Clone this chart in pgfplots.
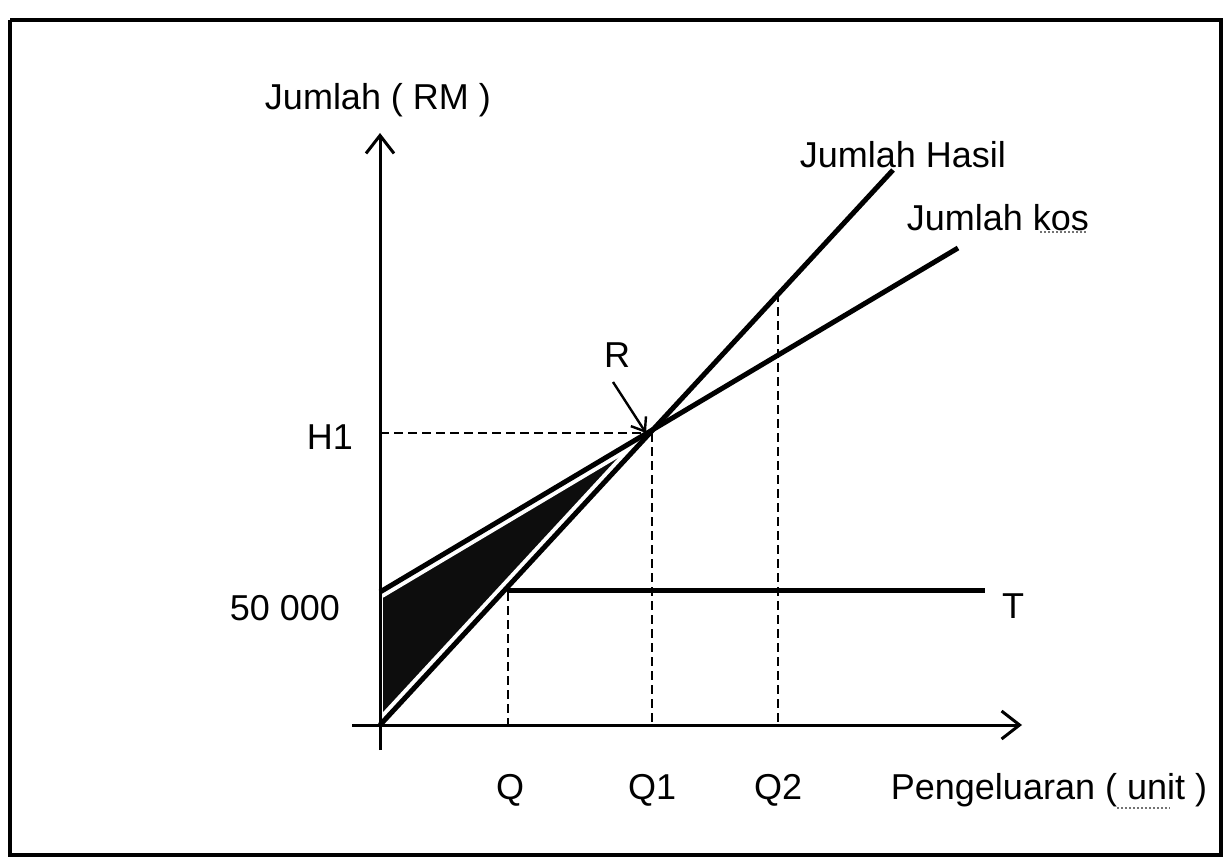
\documentclass[border=0pt]{standalone}
\usepackage{fontspec}
\setmainfont{Liberation Sans}
\usepackage{pgfplots}
\pgfplotsset{compat=1.18}
\usetikzlibrary{arrows.meta}

\begin{document}
\begin{tikzpicture}
\begin{axis}[
    hide axis,
    scale only axis,
    width=614.5pt, height=432pt,
    xmin=-380, xmax=849,
    ymin=-139, ymax=725,
    clip=false,
    every axis plot/.append style={no marks},
    nodes={font=\fontsize{18}{21}\selectfont},
    ]
    % keep the whole axis box in the picture
    \addplot[draw=none] coordinates {(-380,-139) (849,725)};
    % outer frame
    \addplot[black, line width=2pt] coordinates {
        (-370,705) (841,705) (841,-130) (-370,-130) (-370,705)
    };
    % loss area
    \addplot[fill=black!95, draw=none] coordinates {
        (3,133) (273,295) (3,0)
    } -- cycle;
    % white gaps along the two lines
    \addplot[white, line width=6.5pt] coordinates {(0,0) (513,555)};
    \addplot[white, line width=6.5pt] coordinates {(0,133) (578,477)};
    % axes
    \addplot[black, line width=1.5pt, -{Straight Barb[length=9pt,width=14pt]}]
        coordinates {(0,-25) (0,592)};
    \addplot[black, line width=1.5pt, -{Straight Barb[length=9pt,width=14pt]}]
        coordinates {(-28,0) (642,0)};
    % dashed guides
    \addplot[black, line width=1.2pt, dash pattern=on 4.5pt off 2.5pt]
        coordinates {(0,292) (262,292)};
    \addplot[black, line width=1.2pt, dash pattern=on 4.5pt off 2.5pt]
        coordinates {(272,292) (272,0)};
    \addplot[black, line width=1.2pt, dash pattern=on 4.5pt off 2.5pt]
        coordinates {(128,133) (128,0)};
    \addplot[black, line width=1.2pt, dash pattern=on 4.5pt off 2.5pt]
        coordinates {(398,432) (398,0)};
    % Jumlah Hasil, Jumlah kos, T
    \addplot[black, line width=2.5pt] coordinates {(0,0) (513,555)};
    \addplot[black, line width=2.5pt] coordinates {(0,133) (578,477)};
    \addplot[black, line width=2.5pt] coordinates {(127,135) (605,135)};
    % arrow to R
    \addplot[black, line width=1.2pt, -{Straight Barb[length=6pt,width=9pt]}]
        coordinates {(233,343) (266,292)};
    % spelling squiggles
    \addplot[black!55, densely dotted, line width=1pt] coordinates {(660,493) (707,493)};
    \addplot[black!55, densely dotted, line width=1pt] coordinates {(737,-83) (790,-83)};
    % labels
    \node at (-2,625) {Jumlah ( RM )};
    \node at (523,570) {Jumlah Hasil};
    \node at (618,507) {Jumlah kos};
    \node at (237,370) {R};
    \node at (-50,288) {H1};
    \node at (-95,117) {50 000};
    \node at (633,119) {T};
    \node at (130,-65) {Q};
    \node at (272,-65) {Q1};
    \node at (398,-65) {Q2};
    \node at (669,-65) {Pengeluaran ( unit )};
\end{axis}
\end{tikzpicture}
\end{document}
